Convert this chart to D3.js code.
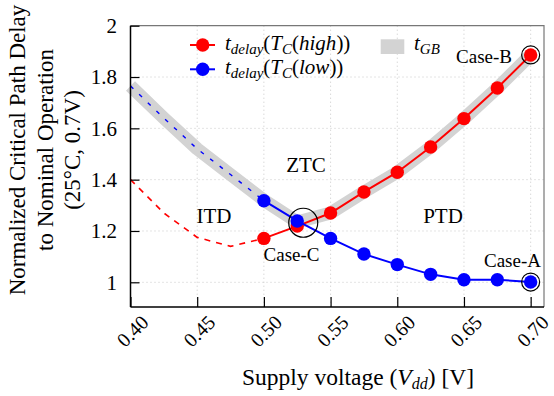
<!DOCTYPE html>
<html>
<head>
<meta charset="utf-8">
<script src="https://cdn.jsdelivr.net/npm/d3@7"></script>
<style>
  body { margin: 0; background: #fff; }
</style>
</head>
<body>
<div id="chart"></div>
<script>
// supply voltage steps
var vdd = [0.50, 0.525, 0.55, 0.575, 0.60, 0.625, 0.65, 0.675, 0.70];
var delayHigh = [1.171, 1.219, 1.27, 1.352, 1.429, 1.527, 1.638, 1.757, 1.886];
var delayLow = [1.318, 1.239, 1.171, 1.110, 1.069, 1.031, 1.010, 1.010, 1.001];

// dashed extensions below 0.5V
var vddExt = [0.40, 0.425, 0.45, 0.475, 0.50];
var highExt = [1.40, 1.27, 1.175, 1.14, 1.171];
var lowExt = [1.765, 1.64, 1.52, 1.42, 1.318];

// guard band
var vddGB = [0.40, 0.425, 0.45, 0.475, 0.50, 0.525, 0.55, 0.575, 0.60, 0.625, 0.65, 0.675, 0.70];
var tGB = [1.765, 1.64, 1.52, 1.42, 1.32, 1.235, 1.27, 1.352, 1.429, 1.527, 1.638, 1.757, 1.886];

var xTicks = [0.40, 0.45, 0.50, 0.55, 0.60, 0.65, 0.70];
var yTicks = [1, 1.2, 1.4, 1.6, 1.8, 2];

var width = 554, height = 396;
var svg = d3.select("#chart").append("svg")
    .attr("width", width)
    .attr("height", height)
    .attr("font-family", "'Liberation Serif', 'DejaVu Serif', serif");

var x = d3.scaleLinear().domain([0.40, 0.71]).range([130.5, 544]);
var y = d3.scaleLinear().domain([1, 2]).range([282.3, 25.7]);
var yBottom = y.invert(307);

var x0 = x(0.40), x1 = x(0.71), yTop = y(2), yBot = y(yBottom);

// grid
svg.append("g").selectAll("line.vg")
    .data(xTicks.filter(function(d) { return d > 0.40; }))
    .enter().append("line")
    .attr("x1", function(d) { return x(d); })
    .attr("x2", function(d) { return x(d); })
    .attr("y1", yTop).attr("y2", yBot)
    .attr("stroke", "#c8c8c8").attr("stroke-width", 1)
    .attr("stroke-dasharray", "1,3");
svg.append("g").selectAll("line.hg")
    .data(yTicks.filter(function(d) { return d < 2; }))
    .enter().append("line")
    .attr("x1", x0).attr("x2", x1)
    .attr("y1", function(d) { return y(d); })
    .attr("y2", function(d) { return y(d); })
    .attr("stroke", "#c8c8c8").attr("stroke-width", 1)
    .attr("stroke-dasharray", "1,3");

// top/right frame
svg.append("path")
    .attr("d", "M" + x0 + "," + yTop + "H" + x1 + "V" + yBot)
    .attr("fill", "none").attr("stroke", "#777").attr("stroke-width", 1.2);

var line = d3.line()
    .x(function(d) { return x(d[0]); })
    .y(function(d) { return y(d[1]); });

function pairs(xs, ys) {
  return xs.map(function(v, i) { return [v, ys[i]]; });
}

// guard band
svg.append("path")
    .datum(pairs(vddGB, tGB))
    .attr("d", line)
    .attr("fill", "none")
    .attr("stroke", "#d3d3d3")
    .attr("stroke-width", 13)
    .attr("stroke-linejoin", "round");

// dashed extensions
svg.append("path")
    .datum(pairs(vddExt, highExt))
    .attr("d", line)
    .attr("fill", "none").attr("stroke", "#ff0000")
    .attr("stroke-width", 1.6).attr("stroke-dasharray", "6,6");
svg.append("path")
    .datum(pairs(vddExt, lowExt))
    .attr("d", line)
    .attr("fill", "none").attr("stroke", "#0000ff")
    .attr("stroke-width", 1.4).attr("stroke-dasharray", "4,8");

function series(ys, color) {
  var data = pairs(vdd, ys);
  svg.append("path")
      .datum(data)
      .attr("d", line)
      .attr("fill", "none").attr("stroke", color).attr("stroke-width", 2);
  svg.append("g").selectAll("circle")
      .data(data)
      .enter().append("circle")
      .attr("cx", function(d) { return x(d[0]); })
      .attr("cy", function(d) { return y(d[1]); })
      .attr("r", 6.7)
      .attr("fill", color);
}
series(delayHigh, "#ff0000");
series(delayLow, "#0000ff");

// axes
var xAxis = d3.axisBottom(x).tickValues(xTicks).tickSize(-10).tickFormat("");
var yAxis = d3.axisLeft(y).tickValues(yTicks).tickSize(-9).tickFormat("");
svg.append("g").attr("transform", "translate(0," + yBot + ")").call(xAxis)
  .call(function(g) {
    g.select(".domain").attr("stroke-width", 1.5).attr("d", "M" + x0 + ",0H" + x1);
    g.selectAll(".tick line").attr("stroke-width", 1.2);
  });
svg.append("g").attr("transform", "translate(" + x0 + ",0)").call(yAxis)
  .call(function(g) {
    g.select(".domain").attr("stroke-width", 1.5).attr("d", "M0," + yTop + "V" + yBot);
    g.selectAll(".tick line").attr("stroke-width", 1.2);
  });

// tick labels
svg.append("g").selectAll("text")
    .data(xTicks)
    .enter().append("text")
    .attr("transform", function(d) { return "translate(" + (x(d) + 2) + "," + 331 + ") rotate(-45)"; })
    .attr("text-anchor", "middle")
    .attr("dy", "0.35em")
    .attr("font-size", 20)
    .text(function(d) { return d3.format(".2f")(d); });
svg.append("g").selectAll("text")
    .data(yTicks)
    .enter().append("text")
    .attr("x", 117)
    .attr("y", function(d) { return y(d); })
    .attr("dy", "0.35em")
    .attr("text-anchor", "end")
    .attr("font-size", 21)
    .text(function(d) { return d3.format("")(d); });

// case circles
var cases = [[0.70, 1.886, 9], [0.70, 1.001, 9], [0.5295, 1.232, 14.5]];
svg.append("g").selectAll("circle")
    .data(cases)
    .enter().append("circle")
    .attr("cx", function(d) { return x(d[0]); })
    .attr("cy", function(d) { return y(d[1]); })
    .attr("r", function(d) { return d[2]; })
    .attr("fill", "none").attr("stroke", "#000").attr("stroke-width", 1.2);

// annotations
var notes = [
  ["ZTC", 306, 172, 21],
  ["ITD", 214, 223, 21],
  ["PTD", 443, 223, 21],
  ["Case-C", 291.5, 261, 19],
  ["Case-A", 512.5, 267, 19],
  ["Case-B", 484, 63, 19]
];
svg.append("g").selectAll("text")
    .data(notes)
    .enter().append("text")
    .attr("x", function(d) { return d[1]; })
    .attr("y", function(d) { return d[2]; })
    .attr("text-anchor", "middle")
    .attr("font-size", function(d) { return d[3]; })
    .text(function(d) { return d[0]; });

// legend
function legendRow(color, yy, label) {
  svg.append("line").attr("x1", 190).attr("x2", 215).attr("y1", yy).attr("y2", yy)
      .attr("stroke", color).attr("stroke-width", 2);
  svg.append("circle").attr("cx", 202.7).attr("cy", yy).attr("r", 6.7).attr("fill", color);
  var t = svg.append("text").attr("x", 225).attr("y", yy + 5).attr("font-size", 21);
  t.append("tspan").attr("font-style", "italic").text("t");
  t.append("tspan").attr("font-style", "italic").attr("font-size", 15).attr("dy", 4).text("delay");
  t.append("tspan").attr("dy", -4).text("(");
  t.append("tspan").attr("font-style", "italic").text("T");
  t.append("tspan").attr("font-style", "italic").attr("font-size", 15).attr("dy", 4).text("C");
  t.append("tspan").attr("dy", -4).text("(");
  t.append("tspan").attr("font-style", "italic").text(label);
  t.append("tspan").text("))");
}
legendRow("#ff0000", 45, "high");
legendRow("#0000ff", 69.3, "low");
svg.append("rect").attr("x", 380.7).attr("y", 39.3).attr("width", 23.6).attr("height", 14.7).attr("fill", "#d3d3d3");
var tg = svg.append("text").attr("x", 414).attr("y", 50).attr("font-size", 21);
tg.append("tspan").attr("font-style", "italic").text("t");
tg.append("tspan").attr("font-style", "italic").attr("font-size", 15).attr("dy", 4).text("GB");

// axis titles
var xt = svg.append("text").attr("x", 358).attr("y", 385).attr("text-anchor", "middle").attr("font-size", 23.5);
xt.append("tspan").text("Supply voltage (");
xt.append("tspan").attr("font-style", "italic").text("V");
xt.append("tspan").attr("font-style", "italic").attr("font-size", 16).attr("dy", 4).text("dd");
xt.append("tspan").attr("dy", -4).text(") [V]");

var yLines = ["Normalized Critical Path Delay", "to Nominal Operation", "(25\u00B0C, 0.7V)"];
svg.append("g").selectAll("text")
    .data(yLines)
    .enter().append("text")
    .attr("transform", function(d, i) { return "translate(" + (25 + i * 27.5) + ",150) rotate(-90)"; })
    .attr("text-anchor", "middle")
    .attr("font-size", 23)
    .text(function(d) { return d; });
</script>
</body>
</html>
